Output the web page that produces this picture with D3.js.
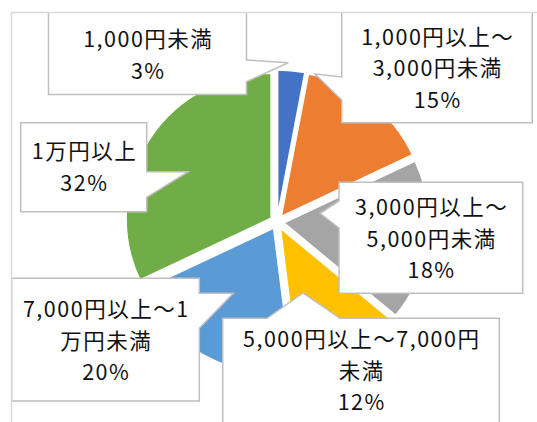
<!DOCTYPE html>
<html>
<head>
<meta charset="utf-8">
<script src="https://cdn.jsdelivr.net/npm/d3@7"></script>
<style>
  body { margin: 0; background: #fff; }
  svg { display: block; }
</style>
</head>
<body>
<svg id="chart" width="537" height="422"></svg>
<script>
// chart values
const categories = ["1,000円未満", "1,000円以上～3,000円未満", "3,000円以上～5,000円未満",
  "5,000円以上～7,000円未満", "7,000円以上～1万円未満", "1万円以上"];
const values = [3, 15, 18, 12, 20, 32];
const percentLabels = ["3%", "15%", "18%", "12%", "20%", "32%"];
// how each category label wraps inside its callout
const labelLines = [
  ["1,000円未満"],
  ["1,000円以上～", "3,000円未満"],
  ["3,000円以上～", "5,000円未満"],
  ["5,000円以上～7,000円", "未満"],
  ["7,000円以上～1", "万円未満"],
  ["1万円以上"]
];
const colors = ["#4472C4", "#ED7D31", "#A5A5A5", "#FFC000", "#5B9BD5", "#70AD47"];

// callout boxes (layout only): box edges, pointer side, pointer base and tip
const callouts = [
  { x0: 48.5, y0: 12, x1: 246.5, y1: 94.5, cy: 55, side: "right", b0: 60, b1: 81.7, tip: [288.3, 62.7] },
  { x0: 341.7, y0: 12, x1: 532.3, y1: 122.7, cy: 68.5, side: "left", b0: 77, b1: 100, tip: [315, 74] },
  { x0: 339, y0: 182.3, x1: 522.7, y1: 293.3, cy: 239, side: "left", b0: 201, b1: 228, tip: [320, 213.3] },
  { x0: 222.7, y0: 318.3, x1: 499.3, y1: 424, cy: 370.8, side: "top", b0: 267, b1: 340, tip: [303, 293] },
  { x0: 11.7, y0: 278.3, x1: 199.3, y1: 401, cy: 341, side: "right", b0: 293.3, b1: 328.3, tip: [233.3, 293.3] },
  { x0: 20.7, y0: 122.7, x1: 146.7, y1: 211.7, cy: 167.3, side: "right", b0: 171.7, b1: 197.3, tip: [188.3, 171.7] }
];

const svg = d3.select("#chart");
const cx = 277, cy = 222; // pie centre
const radius = 145;
const explode = 7; // every slice pulled out a little
const lineH = 31.5;

svg.append("clipPath").attr("id", "area")
  .append("rect").attr("x", 11.5).attr("y", 12).attr("width", 540).attr("height", 420);

const g = svg.append("g").attr("clip-path", "url(#area)");

const pie = d3.pie().sort(null).value((d) => d);
const arc = d3.arc().innerRadius(0).outerRadius(radius);
const arcs = pie(values);

g.append("g")
  .attr("transform", "translate(" + cx + "," + cy + ")")
  .selectAll("path")
  .data(arcs)
  .enter()
  .append("path")
  .attr("d", arc)
  .attr("fill", (d, i) => colors[i])
  .attr("stroke", "#fff")
  .attr("stroke-width", 1.5)
  .attr("transform", (d) => {
    const a = (d.startAngle + d.endAngle) / 2;
    return "translate(" + explode * Math.sin(a) + "," + -explode * Math.cos(a) + ")";
  });

// rectangle outline with a wedge pointer on one side
function calloutPath(c) {
  const t = c.tip;
  let p = "M" + c.x0 + "," + c.y0;
  if (c.side == "top") p += "L" + c.b0 + "," + c.y0 + "L" + t[0] + "," + t[1] + "L" + c.b1 + "," + c.y0;
  p += "L" + c.x1 + "," + c.y0;
  if (c.side == "right") p += "L" + c.x1 + "," + c.b0 + "L" + t[0] + "," + t[1] + "L" + c.x1 + "," + c.b1;
  p += "L" + c.x1 + "," + c.y1 + "L" + c.x0 + "," + c.y1;
  if (c.side == "left") p += "L" + c.x0 + "," + c.b1 + "L" + t[0] + "," + t[1] + "L" + c.x0 + "," + c.b0;
  return p + "Z";
}

const labels = g.selectAll(".callout")
  .data(callouts)
  .enter()
  .append("g")
  .attr("class", "callout");

labels.append("path")
  .attr("d", calloutPath)
  .attr("fill", "#fff")
  .attr("stroke", "#BFBFBF")
  .attr("stroke-width", 1.5)
  .attr("stroke-linejoin", "miter");

labels.each(function (c, i) {
  const lines = labelLines[i].concat([percentLabels[i]]);
  const top = c.cy - ((lines.length - 1) * lineH) / 2;
  d3.select(this)
    .selectAll("text")
    .data(lines)
    .enter()
    .append("text")
    .attr("x", (c.x0 + c.x1) / 2 + 0.75)
    .attr("y", (d, k) => top + k * lineH + 7.9)
    .attr("text-anchor", "middle")
    .attr("font-family", "'Noto Sans CJK JP', sans-serif")
    .attr("font-size", "21.5px")
    .attr("letter-spacing", "1.5px")
    .attr("fill", "#111")
    .text((d) => d);
});

// chart area border (only top and left edges fall inside the picture)
svg.append("path")
  .attr("d", "M11.5,422V12.5H537")
  .attr("fill", "none")
  .attr("stroke", "#D9D9D9")
  .attr("stroke-width", 1.5);
</script>
</body>
</html>
